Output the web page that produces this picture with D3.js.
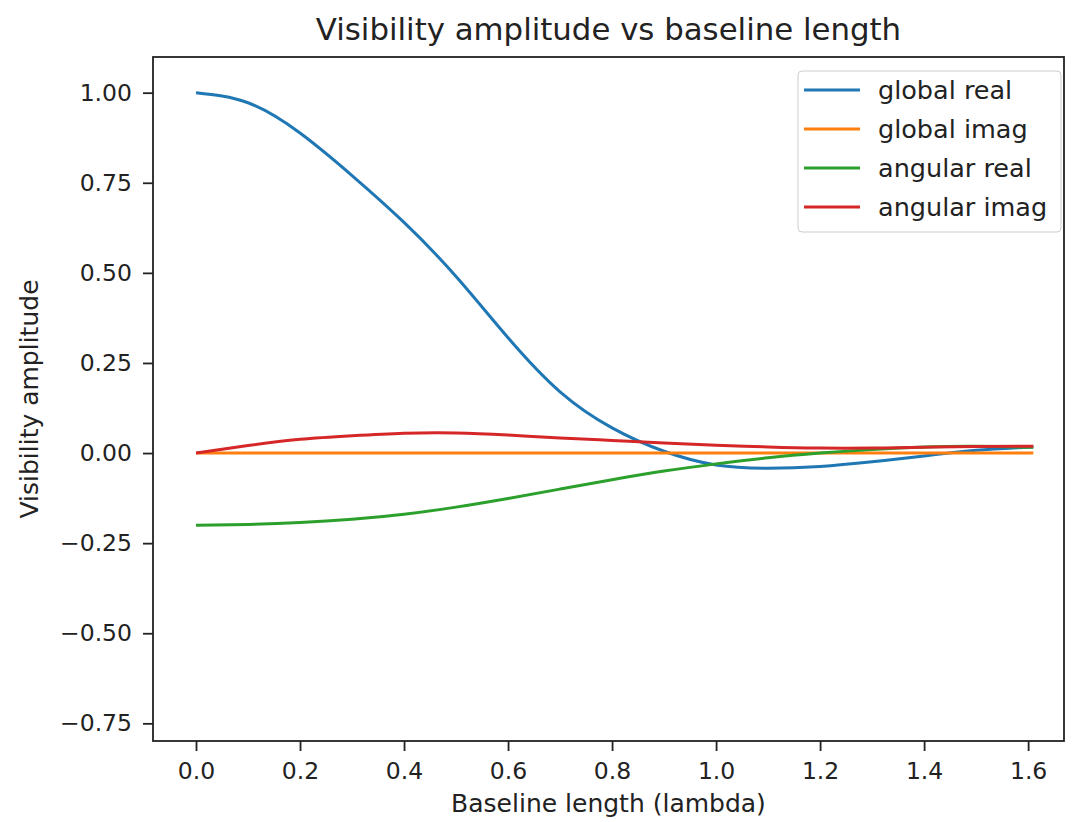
<!DOCTYPE html>
<html>
<head>
<meta charset="utf-8">
<script src="https://cdn.jsdelivr.net/npm/d3@7"></script>
<style>
  body { margin: 0; background: #fff; }
  text { font-family: "DejaVu Sans", sans-serif; fill: #222; }
</style>
</head>
<body>
<div id="chart"></div>
<script>
// baseline lengths (lambda)
var baseline = [0.0, 0.1, 0.2, 0.3, 0.4, 0.5, 0.6, 0.7, 0.8, 0.9, 1.0, 1.1, 1.2, 1.3, 1.4, 1.5, 1.61];
var globalReal  = [1.0, 0.972, 0.888, 0.77, 0.64, 0.49, 0.32, 0.17, 0.07, 0.005, -0.033, -0.042, -0.037, -0.024, -0.008, 0.008, 0.017];
var globalImag  = [0, 0, 0, 0, 0, 0, 0, 0, 0, 0, 0, 0, 0, 0, 0, 0, 0];
var angularReal = [-0.2, -0.198, -0.193, -0.184, -0.170, -0.150, -0.126, -0.100, -0.074, -0.050, -0.030, -0.013, 0.000, 0.010, 0.017, 0.019, 0.016];
var angularImag = [0.0, 0.021, 0.038, 0.048, 0.055, 0.056, 0.050, 0.042, 0.035, 0.028, 0.022, 0.017, 0.014, 0.014, 0.016, 0.018, 0.019];

var seriesNames = ["global real", "global imag", "angular real", "angular imag"];
var seriesColors = ["#1f77b4", "#ff7f0e", "#2ca02c", "#d62728"];
var seriesData = [globalReal, globalImag, angularReal, angularImag];

var xTicks = [0, 0.2, 0.4, 0.6, 0.8, 1.0, 1.2, 1.4, 1.6];
var yTicks = [-0.75, -0.5, -0.25, 0, 0.25, 0.5, 0.75, 1.0];

var svgWidth = 1072;
var svgHeight = 822;
var margin = { top: 57, right: 8, bottom: 81, left: 153 };
var width = svgWidth - margin.left - margin.right;
var height = svgHeight - margin.top - margin.bottom;

var svg = d3.select("#chart")
  .append("svg")
  .attr("width", svgWidth)
  .attr("height", svgHeight);

var chartGroup = svg.append("g")
  .attr("transform", `translate(${margin.left}, ${margin.top})`);

var xScale = d3.scaleLinear()
  .domain([-0.0827, 1.669])
  .range([0, width]);

var yScale = d3.scaleLinear()
  .domain([-0.799, 1.099])
  .range([height, 0]);

var bottomAxis = d3.axisBottom(xScale)
  .tickValues(xTicks)
  .tickSize(10)
  .tickPadding(11)
  .tickFormat(d3.format(".1f"));

var leftAxis = d3.axisLeft(yScale)
  .tickValues(yTicks)
  .tickSize(10)
  .tickPadding(11)
  .tickFormat(d => d3.format(".2f")(d).replace("-", "\u2212"));

var xAxisG = chartGroup.append("g")
  .attr("transform", `translate(0, ${height})`)
  .call(bottomAxis);

var yAxisG = chartGroup.append("g")
  .call(leftAxis);

[xAxisG, yAxisG].forEach(g => {
  g.select(".domain").remove();
  g.selectAll(".tick line").attr("stroke", "#222").attr("stroke-width", 1.8);
  g.selectAll(".tick text").attr("font-size", 23.5).attr("fill", "#222")
    .style("font-family", "'DejaVu Sans', sans-serif");
});

// lines
var line = d3.line()
  .x((d, i) => xScale(baseline[i]))
  .y(d => yScale(d))
  .curve(d3.curveNatural);

seriesData.forEach((s, k) => {
  chartGroup.append("path")
    .datum(s)
    .attr("fill", "none")
    .attr("stroke", seriesColors[k])
    .attr("stroke-width", 3)
    .attr("d", line);
});

// frame
chartGroup.append("rect")
  .attr("width", width)
  .attr("height", height)
  .attr("fill", "none")
  .attr("stroke", "#222")
  .attr("stroke-width", 1.8);

// legend
var legend = chartGroup.append("g")
  .attr("transform", `translate(${width - 266}, 14)`);

legend.append("rect")
  .attr("width", 263)
  .attr("height", 161)
  .attr("rx", 4)
  .attr("fill", "#fff")
  .attr("fill-opacity", 0.8)
  .attr("stroke", "#ccc");

seriesNames.forEach((name, k) => {
  var row = legend.append("g")
    .attr("transform", `translate(0, ${19 + k * 39})`);
  row.append("line")
    .attr("x1", 6).attr("x2", 62)
    .attr("stroke", seriesColors[k])
    .attr("stroke-width", 3);
  row.append("text")
    .attr("x", 80)
    .attr("dy", "0.35em")
    .attr("font-size", 25.5)
    .text(name);
});

// title and axis labels
svg.append("text")
  .attr("x", margin.left + width / 2)
  .attr("y", 40)
  .attr("text-anchor", "middle")
  .attr("font-size", 30.8)
  .text("Visibility amplitude vs baseline length");

svg.append("text")
  .attr("x", margin.left + width / 2)
  .attr("y", 812)
  .attr("text-anchor", "middle")
  .attr("font-size", 25)
  .text("Baseline length (lambda)");

svg.append("text")
  .attr("transform", "rotate(-90)")
  .attr("x", -(margin.top + height / 2))
  .attr("y", 38)
  .attr("text-anchor", "middle")
  .attr("font-size", 25)
  .text("Visibility amplitude");
</script>
</body>
</html>
